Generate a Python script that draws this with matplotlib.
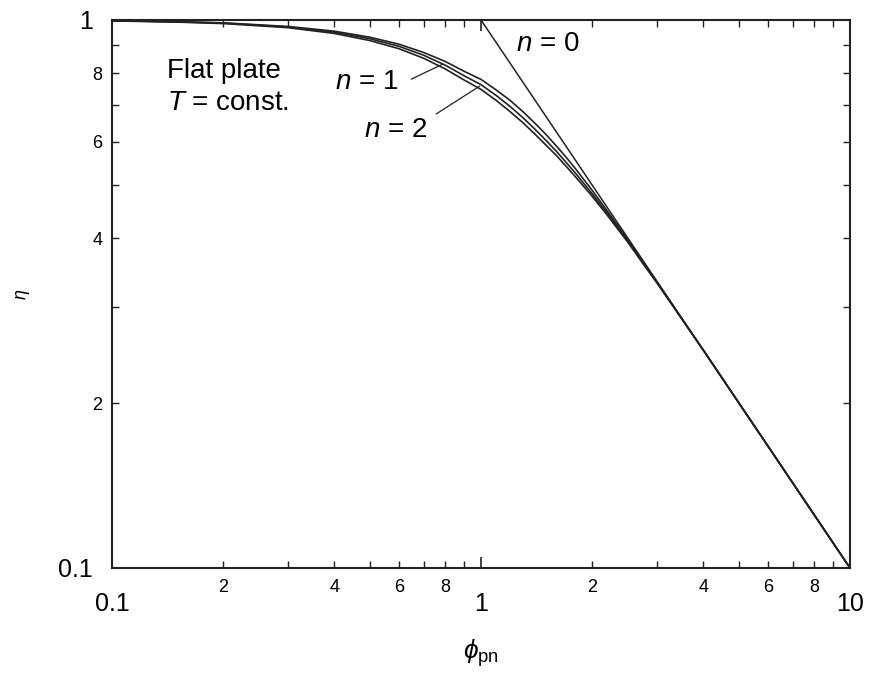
import matplotlib.pyplot as plt
from matplotlib.ticker import FixedLocator, FixedFormatter

plt.rcParams['font.family'] = ['Liberation Sans', 'DejaVu Sans']
plt.rcParams['mathtext.fontset'] = 'custom'
plt.rcParams['mathtext.it'] = 'Liberation Sans:italic'
plt.rcParams['mathtext.rm'] = 'Liberation Sans'

# Wirkungsgrad ebene Rippe, T = const.
phi = [0.1, 0.15, 0.2, 0.3, 0.4, 0.5, 0.6, 0.7, 0.8, 0.9, 1.0,
       1.1, 1.2, 1.3, 1.4, 1.5, 1.6, 1.7, 1.8, 2.0, 2.2, 2.5, 2.8,
       3.0, 3.5, 4.0, 5.0, 6.0, 8.0, 10.0]
eta_a = [0.997, 0.993, 0.988, 0.973, 0.954, 0.930, 0.903, 0.872, 0.840, 0.806, 0.779,
         0.745, 0.713, 0.680, 0.648, 0.618, 0.589, 0.562, 0.536, 0.489, 0.448, 0.397, 0.355,
         0.332, 0.285, 0.250, 0.200, 0.1667, 0.125, 0.100]
eta_b = [0.997, 0.992, 0.987, 0.971, 0.950, 0.924, 0.895, 0.862, 0.827, 0.791, 0.762,
         0.728, 0.695, 0.663, 0.632, 0.603, 0.576, 0.550, 0.526, 0.482, 0.444, 0.395, 0.354,
         0.332, 0.285, 0.250, 0.200, 0.1667, 0.125, 0.100]
eta_c = [0.996, 0.991, 0.985, 0.968, 0.945, 0.917, 0.886, 0.851, 0.814, 0.777, 0.747,
         0.713, 0.680, 0.649, 0.619, 0.591, 0.566, 0.541, 0.518, 0.477, 0.440, 0.393, 0.353,
         0.331, 0.285, 0.250, 0.200, 0.1667, 0.125, 0.100]

# Grenzgerade n = 0
phi_0 = [1.0, 10.0]
eta_0 = [1.0, 0.1]

x_major = [0.1, 1, 10]
x_major_lab = ['0.1', '1', '10']
x_minor = [0.2, 0.3, 0.4, 0.5, 0.6, 0.7, 0.8, 0.9, 2, 3, 4, 5, 6, 7, 8, 9]
x_minor_lab = ['2', '', '4', '', '6', '', '8', '', '2', '', '4', '', '6', '', '8', '']
y_major = [0.1, 1]
y_major_lab = ['0.1', '1']
y_minor = [0.2, 0.3, 0.4, 0.5, 0.6, 0.7, 0.8, 0.9]
y_minor_lab = ['2', '', '4', '', '6', '', '8', '']

fig = plt.figure(figsize=(8.88, 6.74), dpi=100)
ax = fig.add_axes([0.1261, 0.1573, 0.8311, 0.8131])

ax.plot(phi_0, eta_0, color='#222222', lw=1.1)
for eta in (eta_a, eta_b, eta_c):
    ax.plot(phi, eta, color='#222222', lw=1.2)

ax.set_xscale('log')
ax.set_yscale('log')
ax.set_xlim(0.1, 10)
ax.set_ylim(0.1, 1)

ax.xaxis.set_major_locator(FixedLocator(x_major))
ax.xaxis.set_major_formatter(FixedFormatter(x_major_lab))
ax.xaxis.set_minor_locator(FixedLocator(x_minor))
ax.xaxis.set_minor_formatter(FixedFormatter(x_minor_lab))
ax.yaxis.set_major_locator(FixedLocator(y_major))
ax.yaxis.set_major_formatter(FixedFormatter(y_major_lab))
ax.yaxis.set_minor_locator(FixedLocator(y_minor))
ax.yaxis.set_minor_formatter(FixedFormatter(y_minor_lab))

ax.tick_params(which='both', direction='in', top=True, right=True, color='#222222')
ax.tick_params(which='major', length=8, width=1.2)
ax.tick_params(which='minor', length=5, width=1.0)
ax.tick_params(axis='x', which='major', labelsize=18, pad=17)
ax.tick_params(axis='x', which='minor', labelsize=13, pad=8)
ax.tick_params(axis='y', which='major', labelsize=18, pad=14)
ax.tick_params(axis='y', which='minor', labelsize=13, pad=7)
for s in ax.spines.values():
    s.set_linewidth(1.5)
    s.set_color('#222222')

ax.set_xlabel(r'$\phi_{\mathrm{pn}}$', fontsize=19)
ax.xaxis.set_label_coords(0.5, -0.127)
ax.set_ylabel(r'$\eta$', fontsize=13)
ax.yaxis.set_label_coords(-0.108, 0.5)

ax.text(0.141, 0.806, 'Flat plate', fontsize=20, va='center', ha='left')
ax.text(0.141, 0.706, r'$T$ = const.', fontsize=20, va='center', ha='left')
ax.text(0.403, 0.771, r'$n$ = 1', fontsize=20, va='center', ha='left')
ax.text(0.483, 0.630, r'$n$ = 2', fontsize=20, va='center', ha='left')
ax.text(1.241, 0.904, r'$n$ = 0', fontsize=20, va='center', ha='left')
ax.plot([0.648, 0.786], [0.780, 0.830], color='#222222', lw=0.9)
ax.plot([0.757, 0.991], [0.674, 0.757], color='#222222', lw=0.9)

fig.savefig('out.png', dpi=100)
